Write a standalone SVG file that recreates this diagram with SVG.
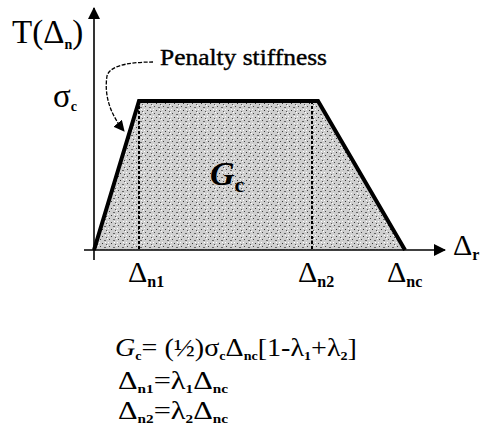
<svg xmlns="http://www.w3.org/2000/svg" width="482" height="446" viewBox="0 0 482 446">
<style>
.t{font-family:"Liberation Serif","Times New Roman",serif;fill:#000}
.ax{stroke:#000;stroke-width:1.6;fill:none}
.dash{stroke:#000;stroke-width:2;stroke-dasharray:3 2;fill:none}
.sub{font-size:16px;font-weight:bold}
.fs{font-size:13px;font-weight:bold}
</style>
<defs>
<marker id="ah" markerWidth="11" markerHeight="11" refX="10" refY="5.5" orient="auto" markerUnits="userSpaceOnUse">
<path d="M0,0 L11,5.5 L0,11 Z" fill="#000"/>
</marker>
<marker id="ah2" markerWidth="12" markerHeight="12" refX="11" refY="6" orient="auto" markerUnits="userSpaceOnUse">
<path d="M0,0 L12,6 L0,12 Z" fill="#000"/>
</marker>
<pattern id="stip" width="9" height="7" patternUnits="userSpaceOnUse">
<rect width="9" height="7" fill="#cfcfcf"/>
<rect x="1" y="1" width="1" height="1" fill="#444"/>
<rect x="5" y="2" width="2" height="1" fill="#666"/>
<rect x="3" y="5" width="1" height="1" fill="#333"/>
<rect x="7" y="6" width="1" height="1" fill="#555"/>
<rect x="0" y="4" width="1" height="1" fill="#fff"/>
<rect x="6" y="4" width="1" height="1" fill="#fff"/>
<rect x="8" y="0" width="1" height="1" fill="#fff"/>
</pattern>
</defs>
<rect width="482" height="446" fill="#fff"/>
<g id="area">
<polygon points="94,250 139,101 318,101 405,250" fill="url(#stip)"/>
</g>
<g id="connectors">
<line class="ax" x1="94" y1="260" x2="94" y2="8" marker-end="url(#ah2)"/>
<line class="ax" x1="84" y1="250" x2="445" y2="250" marker-end="url(#ah2)"/>
<line class="dash" x1="139" y1="101" x2="139" y2="250"/>
<line class="dash" x1="312" y1="101" x2="312" y2="250"/>
<polyline points="94,250 139,101 318,101 405,250" fill="none" stroke="#000" stroke-width="4" stroke-linejoin="miter"/>
<path d="M153,62 C135,62 110,64 107,76 C104,95 110,114 124,131" fill="none" stroke="#000" stroke-width="1.3" stroke-dasharray="4 1.5" marker-end="url(#ah)"/>
</g>
<g id="labels">
<text class="t" x="12" y="43" font-size="33">T(Δ<tspan font-size="14" font-weight="bold" dy="6">n</tspan><tspan dy="-6">)</tspan></text>
<text class="t" x="160" y="65" font-size="23" stroke="#000" stroke-width="0.4" textLength="167" lengthAdjust="spacingAndGlyphs">Penalty stiffness</text>
<text class="t" x="53" y="107" font-size="33">σ<tspan font-size="14" font-weight="bold" dy="4">c</tspan></text>
<text class="t" x="210" y="185" font-size="34" font-style="italic" font-weight="bold">G<tspan font-size="22" dy="7" font-style="normal">c</tspan></text>
<text class="t" x="128" y="282" font-size="30">Δ<tspan class="sub" dy="5">n1</tspan></text>
<text class="t" x="298" y="282" font-size="30">Δ<tspan class="sub" dy="5">n2</tspan></text>
<text class="t" x="387" y="282" font-size="30">Δ<tspan class="sub" dy="5">nc</tspan></text>
<text class="t" x="453" y="255" font-size="30">Δ<tspan class="sub" dy="5">r</tspan></text>
</g>
<g id="formulas">
<text class="t" x="115" y="356" font-size="26" textLength="242" lengthAdjust="spacingAndGlyphs"><tspan font-style="italic">G</tspan><tspan class="fs" dy="4">c</tspan><tspan dy="-4">= (½)σ</tspan><tspan class="fs" dy="4">c</tspan><tspan dy="-4">Δ</tspan><tspan class="fs" dy="4">nc</tspan><tspan dy="-4">[1-λ</tspan><tspan class="fs" dy="4">1</tspan><tspan dy="-4">+λ</tspan><tspan class="fs" dy="4">2</tspan><tspan dy="-4">]</tspan></text>
<text class="t" x="118" y="389" font-size="26" textLength="110" lengthAdjust="spacingAndGlyphs">Δ<tspan class="fs" dy="4">n1</tspan><tspan dy="-4">=λ</tspan><tspan class="fs" dy="4">1</tspan><tspan dy="-4">Δ</tspan><tspan class="fs" dy="4">nc</tspan></text>
<text class="t" x="118" y="419" font-size="26" textLength="110" lengthAdjust="spacingAndGlyphs">Δ<tspan class="fs" dy="4">n2</tspan><tspan dy="-4">=λ</tspan><tspan class="fs" dy="4">2</tspan><tspan dy="-4">Δ</tspan><tspan class="fs" dy="4">nc</tspan></text>
</g>
</svg>
